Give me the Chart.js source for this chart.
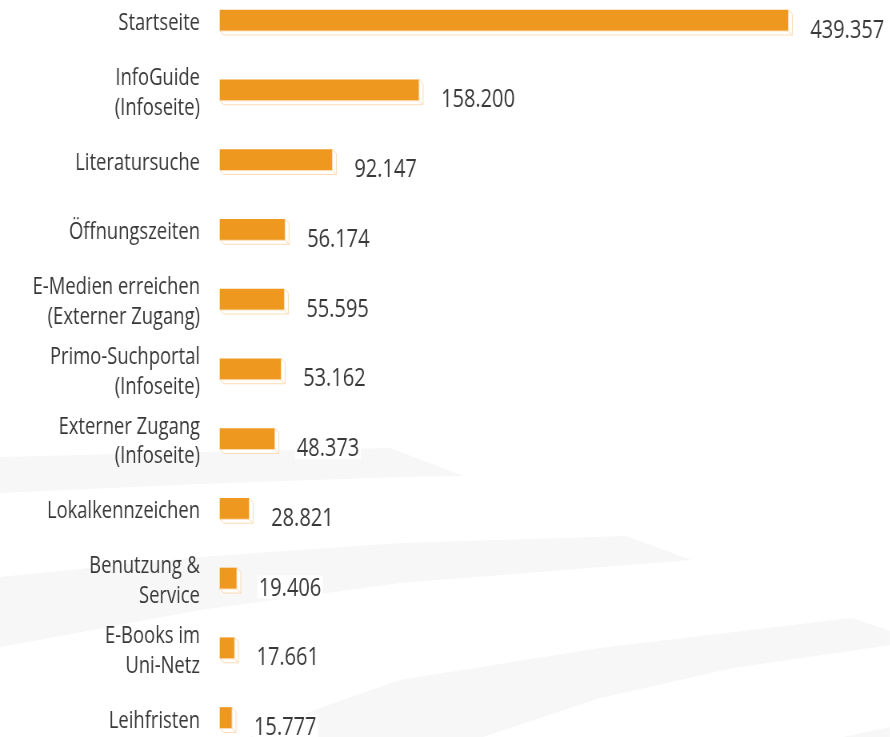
<!DOCTYPE html>
<html>
<head>
<meta charset="utf-8">
<script src="https://cdn.jsdelivr.net/npm/chart.js@4"></script>
<style>
  html, body { margin: 0; background: #fff; overflow: hidden; }
  /* the source uses a condensed face: draw wide, then squeeze horizontally */
  #wrap { width: 1113px; height: 737px; transform: scaleX(0.8); transform-origin: 0 0; }
</style>
</head>
<body>
<div id="wrap"><canvas id="pageChart"></canvas></div>
<script>
const categories = [
    'Startseite',
    ['InfoGuide', '(Infoseite)'],
    'Literatursuche',
    'Öffnungszeiten',
    ['E-Medien erreichen', '(Externer Zugang)'],
    ['Primo-Suchportal', '(Infoseite)'],
    ['Externer Zugang', '(Infoseite)'],
    'Lokalkennzeichen',
    ['Benutzung &', 'Service'],
    ['E-Books im', 'Uni-Netz'],
    'Leihfristen'
];
const views = [439357, 158200, 92147, 56174, 55595, 53162, 48373, 28821, 19406, 17661, 15777];
const valueLabels = ['439.357', '158.200', '92.147', '56.174', '55.595', '53.162', '48.373', '28.821', '19.406', '17.661', '15.777'];

const SQUEEZE = 0.8;
const AXIS_MIN = 6600;
const FONT = "'Open Sans', 'Noto Sans', sans-serif";
const TEXT = '#383838';

// faint grey swooshes in the background (drawn in screen pixels)
const swooshes = {
    id: 'swooshes',
    beforeDraw(chart) {
        const ctx = chart.ctx;
        ctx.save();
        ctx.fillStyle = '#fff';
        ctx.fillRect(0, 0, chart.width, chart.height);
        ctx.scale(1 / SQUEEZE, 1);
        ctx.fillStyle = '#f7f7f7';
        const shapes = [
            [[0,457],[200,452],[390,448],[463,476],[400,477],[200,484],[0,493]],
            [[0,577],[200,557],[400,543],[626,536],[691,560],[400,583],[200,610],[0,647]],
            [[250,737],[320,708],[400,680],[600,648],[852,618],[890,631],[890,645],[733,668],[600,698],[483,737]],
            [[843,737],[890,727],[890,737]]
        ];
        shapes.forEach(pts => {
            ctx.beginPath();
            pts.forEach(([x, y], i) => i ? ctx.lineTo(x, y) : ctx.moveTo(x, y));
            ctx.closePath();
            ctx.fill();
        });
        ctx.restore();
    }
};

// white "3D" side faces right of and under each bar
const extrude = {
    id: 'extrude',
    afterDatasetsDraw(chart) {
        const ctx = chart.ctx;
        const dx = 4 / SQUEEZE, dy = 4;
        ctx.save();
        ctx.fillStyle = '#fff';
        ctx.strokeStyle = '#fbdcb4';
        ctx.lineWidth = 1;
        chart.getDatasetMeta(0).data.forEach(bar => {
            const top = bar.y - bar.height / 2, bottom = bar.y + bar.height / 2;
            ctx.beginPath();
            ctx.moveTo(bar.x, top);
            ctx.lineTo(bar.x + dx, top + dy);
            ctx.lineTo(bar.x + dx, bottom + dy);
            ctx.lineTo(bar.base + dx, bottom + dy);
            ctx.lineTo(bar.base, bottom);
            ctx.lineTo(bar.x, bottom);
            ctx.closePath();
            ctx.fill();
            ctx.stroke();
            ctx.beginPath();
            ctx.moveTo(bar.x, bottom);
            ctx.lineTo(bar.x + dx, bottom + dy);
            ctx.stroke();
        });
        ctx.restore();
    }
};

// value labels to the right of each bar, on a white box
const valueText = {
    id: 'valueText',
    afterDatasetsDraw(chart) {
        const ctx = chart.ctx;
        ctx.save();
        ctx.font = '25px ' + FONT;
        ctx.textBaseline = 'alphabetic';
        ctx.textAlign = 'left';
        chart.getDatasetMeta(0).data.forEach((bar, i) => {
            const txt = valueLabels[i];
            const x = bar.x + 22 / SQUEEZE, base = bar.y + 17;
            const w = ctx.measureText(txt).width;
            ctx.fillStyle = '#fff';
            ctx.fillRect(x - 2, base - 20, w + 4, 23);
            ctx.fillStyle = TEXT;
            ctx.fillText(txt, x, base);
        });
        ctx.restore();
    }
};

new Chart(document.getElementById('pageChart'), {
    type: 'bar',
    data: {
        labels: categories,
        datasets: [{
            data: views,
            base: AXIS_MIN,
            backgroundColor: '#ef981f',
            barThickness: 21,
            clip: false
        }]
    },
    options: {
        indexAxis: 'y',
        responsive: true,
        maintainAspectRatio: false,
        animation: false,
        layout: { padding: { top: 20.5, bottom: 19, left: 0, right: 28 } },
        plugins: {
            legend: { display: false },
            tooltip: { enabled: false }
        },
        scales: {
            x: {
                display: false,
                min: AXIS_MIN,
                max: 500000
            },
            y: {
                offset: false,
                grid: { display: false, drawTicks: false },
                border: { display: false },
                ticks: {
                    color: TEXT,
                    padding: 25,
                    labelOffset: 3,
                    font: { family: FONT, size: 23, lineHeight: 1.28 }
                },
                afterFit(scale) {
                    scale.width = 275;
                    scale.paddingTop = 0;
                    scale.paddingBottom = 0;
                }
            }
        }
    },
    plugins: [swooshes, extrude, valueText]
});
</script>
</body>
</html>
